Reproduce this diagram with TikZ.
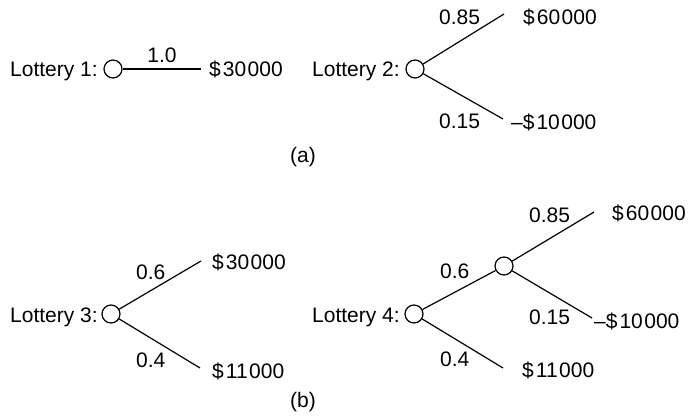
\documentclass[tikz,border=0pt]{standalone}
\usepackage{fontspec}
\setmainfont{Liberation Sans}
\newcommand\dol[2]{\$\kern2pt#1\kern1.5pt#2}
\begin{document}
\begin{tikzpicture}[x=1pt,y=-1pt,
  chance/.style={circle,draw,line width=1.2pt,minimum size=18pt,inner sep=0pt},
  txt/.style={anchor=base west,inner sep=0pt,font=\fontsize{21}{25}\selectfont},
  ctxt/.style={txt,anchor=base},
  branch/.style={line width=1.2pt}]
\useasboundingbox (0,0) rectangle (688,415);
% Lottery 1
\node[txt] (l1) at (10,76) {Lottery 1:};
\node[chance] (c1) at (113,69) {};
\coordinate (e1) at (201,69);
\node[txt] (v1) at (209,76) {\dol{30}{000}};
\node[ctxt] (p1) at (162,62) {1.0};
\draw[branch] (c1) -- (e1);
% Lottery 2
\node[txt] (l2) at (312,76) {Lottery 2:};
\node[chance] (c2) at (415,69) {};
\coordinate (e2a) at (504,14);
\coordinate (e2b) at (503,119);
\node[txt] (p2a) at (439,24) {0.85};
\node[txt] (v2a) at (523,24) {\dol{60}{000}};
\node[txt] (p2b) at (439,128) {0.15};
\node[txt] (v2b) at (511,129) {–\dol{10}{000}};
\draw[branch] (c2) -- (e2a);
\draw[branch] (c2) -- (e2b);
\node[ctxt] (capa) at (303,162) {(a)};
% Lottery 3
\node[txt] (l3) at (10,322) {Lottery 3:};
\node[chance] (c3) at (111,314) {};
\coordinate (e3a) at (201,261);
\coordinate (e3b) at (200,368);
\node[txt] (p3a) at (136,279) {0.6};
\node[txt] (v3a) at (212,269) {\dol{30}{000}};
\node[txt] (p3b) at (136,367) {0.4};
\node[txt] (v3b) at (212,378) {\dol{11}{000}};
\draw[branch] (c3) -- (e3a);
\draw[branch] (c3) -- (e3b);
\node[ctxt] (capb) at (303,407) {(b)};
% Lottery 4
\node[txt] (l4) at (312,322) {Lottery 4:};
\node[chance] (c4) at (414,314) {};
\node[chance] (c5) at (504,266) {};
\coordinate (e4a) at (594,212);
\coordinate (e4b) at (592,318);
\coordinate (e4c) at (503,368);
\node[txt] (p4a) at (529,222) {0.85};
\node[txt] (v4a) at (612,220) {\dol{60}{000}};
\node[txt] (p4b) at (529,324) {0.15};
\node[txt] (v4b) at (594,328) {–\dol{10}{000}};
\node[txt] (p4c) at (440,278) {0.6};
\node[txt] (p4d) at (440,366) {0.4};
\node[txt] (v4c) at (522,377) {\dol{11}{000}};
\draw[branch] (c4) -- (c5);
\draw[branch] (c5) -- (e4a);
\draw[branch] (c5) -- (e4b);
\draw[branch] (c4) -- (e4c);
\end{tikzpicture}
\end{document}
